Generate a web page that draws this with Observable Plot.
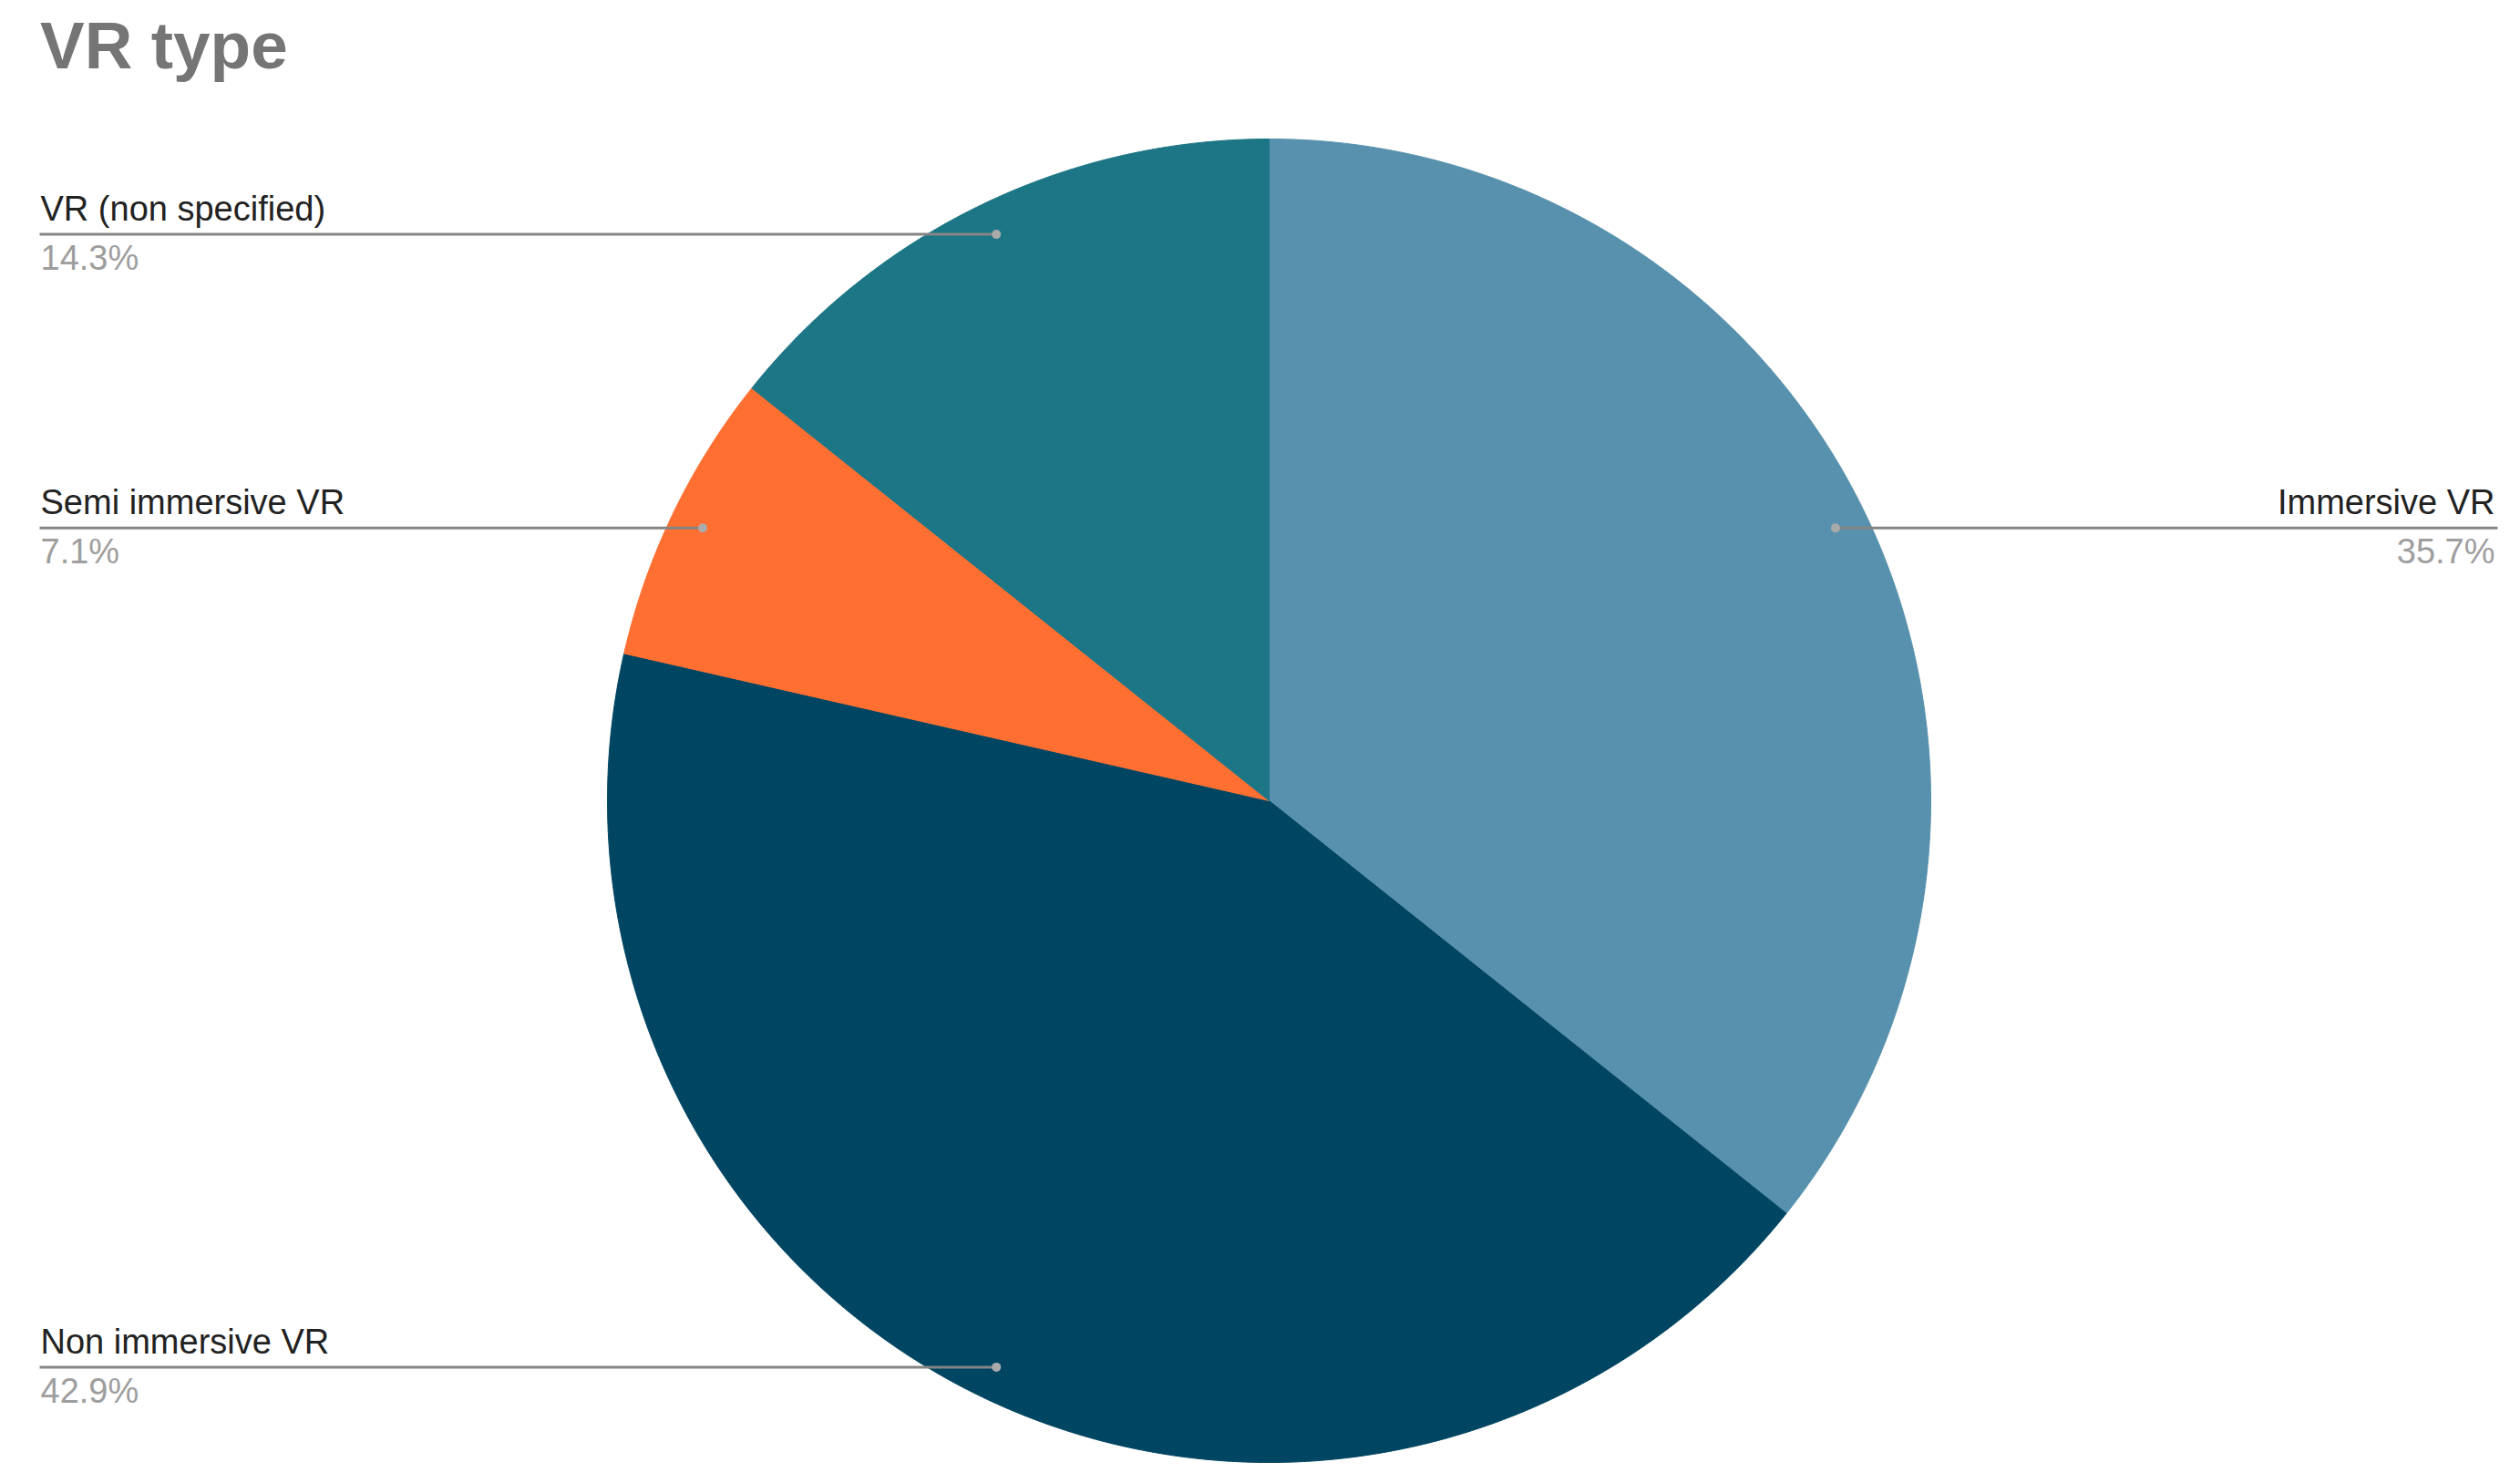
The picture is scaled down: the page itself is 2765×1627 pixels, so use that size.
<!DOCTYPE html>
<html>
<head>
<meta charset="utf-8">
<script src="https://cdn.jsdelivr.net/npm/d3@7"></script>
<script src="https://cdn.jsdelivr.net/npm/@observablehq/plot@0.6"></script>
<style>
  html, body { margin: 0; padding: 0; background: #fff; }
  #wrap { position: relative; width: 2765px; height: 1627px; overflow: hidden; }
  #title { position: absolute; left: 44px; top: 13px; font: bold 73px "Liberation Sans", Arial, sans-serif; line-height: 73px; color: #757575; white-space: nowrap; }
  #chart { position: absolute; left: 0; top: 0; }
</style>
</head>
<body>
<div id="wrap">
  <div id="chart"></div>
  <div id="title">VR type</div>
</div>
<script>
// ---- data ----
const categories = ["Immersive VR", "Non immersive VR", "Semi immersive VR", "VR (non specified)"];
const counts = [5, 6, 1, 2];
const colors = ["#5891ad", "#004561", "#ff6f31", "#1c7685"];

// ---- layout ----
const W = 2765, H = 1627;
const cx = 1392, cy = 878, R = 726;
const dotR = 0.95;          // leader dot radius as fraction of pie radius
const leftEdge = 43, rightEdge = 2740;

const total = d3.sum(counts);
const arcs = d3.pie().sort(null).value(d => d)(counts);

const slices = arcs.map((a, i) => {
  const mid = (a.startAngle + a.endAngle) / 2;
  return {
    cat: categories[i],
    pct: (counts[i] / total * 100).toFixed(1) + "%",
    a0: a.startAngle, a1: a.endAngle, mid,
    side: mid < Math.PI ? "right" : "left",
    dx: dotR * Math.sin(mid), dy: dotR * Math.cos(mid)
  };
});

// wedge outlines in unit coordinates (y up, angle clockwise from top)
const wedgePts = [];
for (const s of slices) {
  wedgePts.push({cat: s.cat, x: 0, y: 0});
  const n = Math.max(2, Math.ceil((s.a1 - s.a0) / (Math.PI / 720)));
  for (let k = 0; k <= n; k++) {
    const t = s.a0 + (s.a1 - s.a0) * k / n;
    wedgePts.push({cat: s.cat, x: Math.sin(t), y: Math.cos(t)});
  }
  wedgePts.push({cat: s.cat, x: 0, y: 0});
}

const xDom = [-cx / R, (W - cx) / R];
const yDom = [-(H - cy) / R, cy / R];
const xLeft = xDom[0] + leftEdge / R;
const xRight = xDom[0] + rightEdge / R;

const left = slices.filter(s => s.side === "left");
const right = slices.filter(s => s.side === "right");

const font = '"Liberation Sans", Arial, sans-serif';

const chart = Plot.plot({
  width: W, height: H,
  margin: 0,
  style: {fontFamily: font, background: "#fff"},
  x: {domain: xDom, axis: null},
  y: {domain: yDom, axis: null},
  color: {type: "ordinal", domain: categories, range: colors},
  marks: [
    Plot.line(wedgePts, {x: "x", y: "y", z: "cat", fill: "cat", stroke: "cat", strokeWidth: 1, curve: "linear"}),
    Plot.link(slices, {
      x1: "dx", y1: "dy",
      x2: d => d.side === "left" ? xLeft : xRight, y2: "dy",
      stroke: "#858585", strokeWidth: 3
    }),
    Plot.dot(slices, {x: "dx", y: "dy", r: 5, fill: "#aaa", stroke: "none"}),
    Plot.text(left, {y: "dy", text: "cat", frameAnchor: "left", textAnchor: "start", dx: 44, dy: -15, lineAnchor: "bottom", fontSize: 38, fill: "#222"}),
    Plot.text(left, {y: "dy", text: "pct", frameAnchor: "left", textAnchor: "start", dx: 44, dy: 39, lineAnchor: "bottom", fontSize: 38, fill: "#9e9e9e"}),
    Plot.text(right, {y: "dy", text: "cat", frameAnchor: "right", textAnchor: "end", dx: -28, dy: -15, lineAnchor: "bottom", fontSize: 38, fill: "#222"}),
    Plot.text(right, {y: "dy", text: "pct", frameAnchor: "right", textAnchor: "end", dx: -28, dy: 39, lineAnchor: "bottom", fontSize: 38, fill: "#9e9e9e"})
  ]
});
document.getElementById("chart").appendChild(chart);
</script>
</body>
</html>
